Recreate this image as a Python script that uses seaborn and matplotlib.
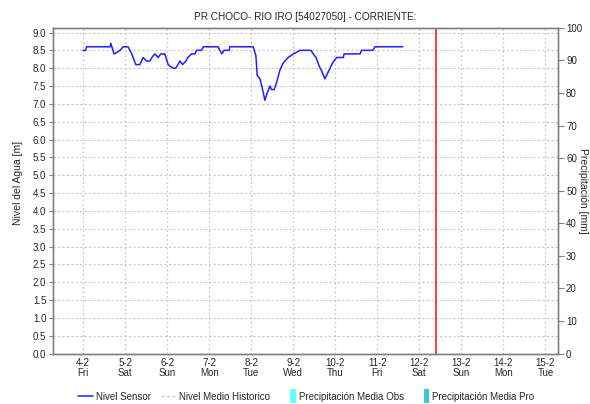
import pandas as pd
import seaborn as sns
import matplotlib.pyplot as plt
import matplotlib.dates as mdates
from matplotlib.lines import Line2D
from matplotlib.patches import Patch, Rectangle
from matplotlib.legend_handler import HandlerPatch

# Sensor readings: hours after 4-2 00:00 and water level [m]
hours = [0, 1.5, 2, 15.5, 15.8, 17.7, 19.7, 21, 22.9, 25.7, 27.8, 30.1, 32.4, 34.3, 36.2,
         38.1, 39.3, 41, 42.9, 44.4, 45.5, 46.7, 48.6, 51.4, 53, 55.3, 56.8, 58.7, 59.8, 61.9,
         63.8, 64.8, 67.7, 68.6, 77.1, 78.1, 79.3, 80.4, 83.4, 83.8, 97.1, 98.7, 99.4, 101,
         102.5, 103.8, 105.1, 106.7, 107.6, 109.1, 110.5, 112.4, 114.3, 117.1, 120, 122.1,
         123.8, 130.1, 131.4, 133, 134.9, 136.4, 138.1, 140, 142.5, 144.8, 148.6, 149, 158.1,
         159.1, 165.4, 166.7, 182.5]
levels = [8.5, 8.5, 8.6, 8.6, 8.7, 8.4, 8.45, 8.5, 8.6, 8.6, 8.4, 8.1, 8.1, 8.3, 8.2,
          8.2, 8.3, 8.4, 8.3, 8.4, 8.4, 8.4, 8.1, 8.0, 8.0, 8.2, 8.1, 8.2, 8.3, 8.4,
          8.4, 8.5, 8.5, 8.6, 8.6, 8.5, 8.4, 8.5, 8.5, 8.6, 8.6, 8.35, 7.8, 7.7, 7.4,
          7.1, 7.3, 7.5, 7.4, 7.4, 7.6, 7.95, 8.15, 8.3, 8.4, 8.45, 8.5, 8.5, 8.4, 8.3,
          8.05, 7.9, 7.7, 7.9, 8.15, 8.3, 8.3, 8.4, 8.4, 8.5, 8.5, 8.6, 8.6]

# historic mean level has no data in this chart
hist_times = []
hist_levels = []

base_date = "2022-02-04 00:00"
x_start = "2022-02-03 07:00"
x_end = "2022-02-15 07:00"
now_time = "2022-02-12 09:30"

title = "PR CHOCO- RIO IRO [54027050] - CORRIENTE:"
legend_labels = ["Nivel Sensor", "Nivel Medio Historico",
                 "Precipitación Media Obs", "Precipitación Media Pro"]

df = pd.DataFrame({
    "time": pd.Timestamp(base_date) + pd.to_timedelta(hours, unit="h"),
    "level": levels,
})

sns.set_style("white")
plt.rcParams["font.family"] = ["Liberation Sans", "DejaVu Sans"]
plt.rcParams["font.size"] = 7

fig = plt.figure(figsize=(5.9, 4.04), dpi=100)
ax = fig.add_axes([0.0903, 0.125, 0.855, 0.806])
ax2 = ax.twinx()

sns.lineplot(data=df, x="time", y="level", ax=ax, color="#2020ff", lw=1.1)
ax.plot(pd.to_datetime(hist_times), hist_levels, color="#c8c8c8", ls="--", lw=1)
ax.axvline(pd.Timestamp(now_time), color="#ff2020", lw=1.2)

ax.set_xlim(pd.Timestamp(x_start), pd.Timestamp(x_end))
ax.set_ylim(0, 9.13)
ax2.set_ylim(0, 100)

ax.set_yticks([i * 0.5 for i in range(19)])
ax.yaxis.set_major_formatter(plt.FormatStrFormatter("%.1f"))
ax2.set_yticks(range(0, 101, 10))

ax.xaxis.set_major_locator(mdates.DayLocator())
ax.xaxis.set_major_formatter(plt.FuncFormatter(
    lambda v, pos: f"{mdates.num2date(v).day}-{mdates.num2date(v).month}\n{mdates.num2date(v):%a}"))

ax.grid(True, axis="y", color="#c8c8c8", ls=(0, (2, 2)), lw=0.8)
ax.grid(True, axis="x", color="#c8c8c8", ls=(0, (1.5, 2)), lw=0.9)
ax.set_axisbelow(True)

for a in (ax, ax2):
    for s in a.spines.values():
        s.set_color("#808080")
        s.set_linewidth(1)
ax.tick_params(axis="y", length=3, width=0.8, color="#808080", pad=2, labelsize=7)
ax.tick_params(axis="x", length=0, pad=3, labelsize=7)
ax2.tick_params(axis="y", length=4, width=0.8, color="#808080", pad=2, labelsize=7)
for lab in ax.get_xticklabels():
    lab.set_linespacing(1.1)

ax.set_xlabel("")
ax.set_ylabel("Nivel del Agua [m]", fontsize=7.5)
ax.yaxis.set_label_coords(-0.061, 0.525)
ax2.set_ylabel("Precipitación [mm]", fontsize=7.5, rotation=270, va="center")
ax2.yaxis.set_label_coords(1.05, 0.5)
ax.set_title(title, fontsize=7.2, pad=6)


def narrow_patch(legend, orig_handle, xdescent, ydescent, width, height, fontsize):
    # thin upright swatch at the right side of the handle box
    w = 4
    return Rectangle((width - w - xdescent, -ydescent - 2.5), w, height + 5)


handles = [
    Line2D([], [], color="#2020ff", lw=1.1),
    Line2D([], [], color="#c8c8c8", ls=(0, (2, 2)), lw=1),
    Patch(facecolor="#66ffff", edgecolor="none"),
    Patch(facecolor="#40c8c8", edgecolor="none"),
]
fig.legend(handles, legend_labels, loc="center", bbox_to_anchor=(0.519, 0.018),
           ncol=4, frameon=False, fontsize=7, handlelength=1.55, handletextpad=0.3,
           columnspacing=1.05,
           handler_map={Patch: HandlerPatch(patch_func=narrow_patch)})

fig.savefig("out.png", dpi=100)
